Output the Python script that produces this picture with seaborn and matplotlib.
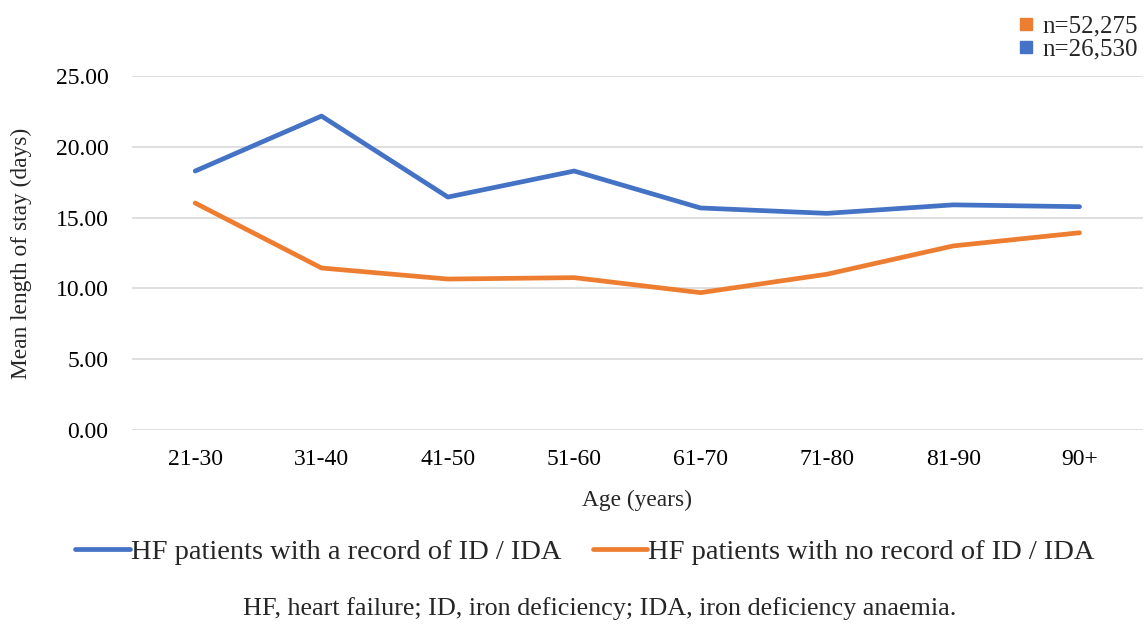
import matplotlib
matplotlib.use("Agg")
import matplotlib.pyplot as plt
import seaborn as sns
import pandas as pd
from matplotlib.lines import Line2D

age_groups = ["21-30", "31-40", "41-50", "51-60", "61-70", "71-80", "81-90", "90+"]
with_id = [18.29, 22.17, 16.45, 18.29, 15.68, 15.30, 15.90, 15.77]
without_id = [16.03, 11.44, 10.66, 10.76, 9.70, 11.00, 13.00, 13.93]
series_names = ["HF patients with a record of ID / IDA", "HF patients with no record of ID / IDA"]
n_labels = ["n=52,275", "n=26,530"]
yticks = [0, 5, 10, 15, 20, 25]

blue = "#4472C4"
orange = "#ED7D31"

sns.set_theme(style="white")
plt.rcParams['font.family'] = ['Liberation Serif', 'DejaVu Serif']

df = pd.DataFrame({
    "age": age_groups * 2,
    "los": with_id + without_id,
    "series": [series_names[0]] * len(age_groups) + [series_names[1]] * len(age_groups),
})
df["x"] = list(range(len(age_groups))) * 2

fig = plt.figure(figsize=(11.45, 6.25), dpi=100)
ax = fig.add_axes([0.1153, 0.312, 0.8827, 0.5664])
sns.lineplot(data=df, x="x", y="los", hue="series", palette=[blue, orange],
             linewidth=3.4, ax=ax, legend=False, solid_capstyle="round")

ax.set_xlim(-0.5, len(age_groups) - 0.5)
ax.set_ylim(0, 25)
ax.set_xticks(range(len(age_groups)))
ax.set_xticklabels(age_groups)
ax.set_yticks(yticks)
ax.set_yticklabels([f"{v:.2f}" for v in yticks])
ax.tick_params(axis="both", length=0, labelsize=17, colors="#000000")
ax.tick_params(axis="x", pad=14)
ax.tick_params(axis="y", pad=17)
ax.grid(axis="y", color="#D9D9D9", linewidth=1.2)
ax.set_axisbelow(True)
for s in ax.spines.values():
    s.set_visible(False)
ax.set_xlabel("Age (years)", fontsize=16.8, labelpad=14)
ax.set_ylabel("Mean length of stay (days)", fontsize=16.8, labelpad=17)

handles = [Line2D([0], [0], color=blue, lw=3.4), Line2D([0], [0], color=orange, lw=3.4)]
fig.legend(handles, series_names, loc="center", bbox_to_anchor=(0.511, 0.117),
           ncol=2, frameon=False, fontsize=20.5, handlelength=1.9, handletextpad=0.05,
           columnspacing=1.1)

sq = [Line2D([0], [0], marker="s", color="none", markerfacecolor=orange, markeredgecolor=orange, markersize=8),
      Line2D([0], [0], marker="s", color="none", markerfacecolor=blue, markeredgecolor=blue, markersize=8)]
fig.legend(sq, n_labels, loc="upper right", bbox_to_anchor=(1.007, 1.0), frameon=False,
           fontsize=18, handlelength=0.6, handletextpad=0.35, labelspacing=0.02, borderaxespad=0.2)

fig.text(0.524, 0.027, "HF, heart failure; ID, iron deficiency; IDA, iron deficiency anaemia.",
         ha="center", va="center", fontsize=18.8)

fig.savefig("out.png", dpi=100, facecolor="white")
